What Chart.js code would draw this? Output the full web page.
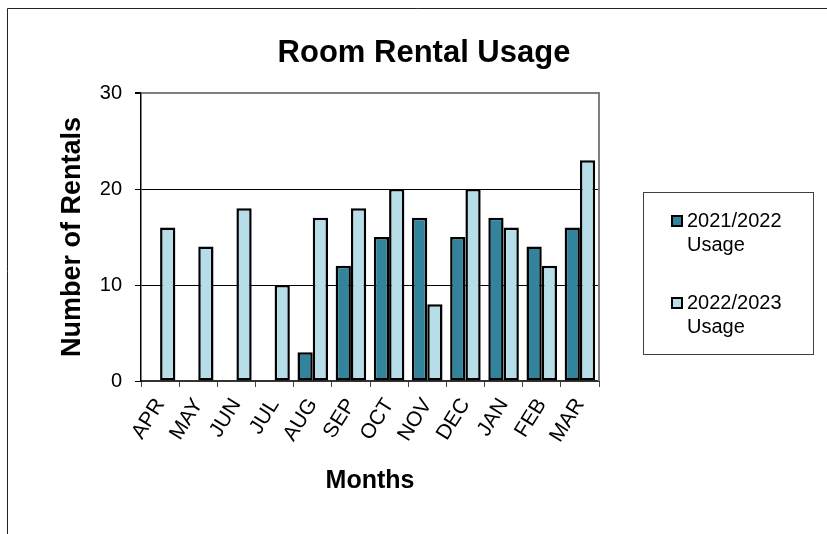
<!DOCTYPE html>
<html>
<head>
<meta charset="utf-8">
<script src="https://cdn.jsdelivr.net/npm/chart.js@4/dist/chart.umd.min.js"></script>
<style>
  html, body { margin:0; padding:0; background:#fff; }
  #wrap { width:827px; height:534px; }
</style>
</head>
<body>
<div id="wrap"><canvas id="chart" width="827" height="534"></canvas></div>
<script>
// data
const months = ['APR','MAY','JUN','JUL','AUG','SEP','OCT','NOV','DEC','JAN','FEB','MAR'];
const usage2122 = [null, null, null, null, 3, 12, 15, 17, 15, 17, 14, 16];
const usage2223 = [16, 14, 18, 10, 17, 18, 20, 8, 20, 16, 12, 23];
const seriesNames = ['2021/2022 Usage', '2022/2023 Usage'];
const yTicks = [0, 10, 20, 30];

const FONT = '"Liberation Sans", Arial, sans-serif';
const DARK = '#31849B', LIGHT = '#B7DDE8';

// outer frame, title, plot border and legend box
const decor = {
  id: 'decor',
  beforeDraw(chart){
    const c = chart.ctx;
    c.save();
    c.strokeStyle = '#222'; c.lineWidth = 1;
    c.beginPath(); c.moveTo(7.5, 534); c.lineTo(7.5, 8.5); c.lineTo(827, 8.5); c.stroke();
    c.restore();
  },
  afterDraw(chart){
    const c = chart.ctx, a = chart.chartArea;
    c.save();
    // right side of plot area (gray)
    c.strokeStyle = '#808080'; c.lineWidth = 2;
    c.beginPath(); c.moveTo(a.right, a.top - 1); c.lineTo(a.right, a.bottom); c.stroke();

    // title
    c.fillStyle = '#000';
    c.font = 'bold 31px ' + FONT;
    c.textAlign = 'center'; c.textBaseline = 'middle';
    c.fillText('Room Rental Usage', 424, 53);

    // legend
    c.strokeStyle = '#404040'; c.lineWidth = 1;
    c.strokeRect(643.5, 192.5, 170, 162);
    c.font = '20px ' + FONT;
    c.textAlign = 'left';
    const rowY = [221, 303];
    chart.data.datasets.forEach((ds, i) => {
      const y = rowY[i];
      c.fillStyle = ds.backgroundColor;
      c.fillRect(672, y - 5, 10, 10);
      c.strokeStyle = '#000'; c.lineWidth = 2;
      c.strokeRect(672, y - 5, 10, 10);
      c.fillStyle = '#000';
      ds.label.split(' ').forEach((line, k) => c.fillText(line, 687, y + k * 24));
    });
    c.restore();
  }
};

new Chart(document.getElementById('chart'), {
  type: 'bar',
  data: {
    labels: months,
    datasets: [
      { label: seriesNames[0], data: usage2122, backgroundColor: DARK, borderColor: '#000', borderWidth: 2.5, borderSkipped: false },
      { label: seriesNames[1], data: usage2223, backgroundColor: LIGHT, borderColor: '#000', borderWidth: 2.5, borderSkipped: false }
    ]
  },
  options: {
    responsive: false,
    animation: false,
    events: [],
    layout: { padding: { left: 8, right: 228, top: 93, bottom: 0 } },
    datasets: { bar: { categoryPercentage: 0.8, barPercentage: 1.0 } },
    plugins: { legend: { display: false }, title: { display: false }, tooltip: { enabled: false } },
    scales: {
      x: {
        afterFit: s => { s.height = 153; },
        grid: { display: true, drawOnChartArea: false, drawTicks: true, tickLength: 6, color: '#444', offset: true },
        border: { display: true, color: '#333', width: 2 },
        ticks: { color: '#000', font: { family: FONT, size: 21 }, minRotation: 58, maxRotation: 58, padding: 7, autoSkip: false },
        title: { display: true, text: 'Months', color: '#000', font: { family: FONT, size: 25, weight: 'bold' }, padding: { top: 0, bottom: 38 } }
      },
      y: {
        min: 0, max: 30,
        afterFit: s => { s.width = 133; },
        afterBuildTicks: s => { s.ticks = yTicks.map(v => ({ value: v })); },
        grid: {
          drawTicks: true, tickLength: 6, tickColor: '#000',
          color: ctx => ctx.tick.value === 30 ? '#808080' : (ctx.tick.value === 0 ? 'rgba(0,0,0,0)' : '#000'),
          lineWidth: ctx => ctx.tick.value === 30 ? 2 : 1
        },
        border: { display: true, color: '#000', width: 1.5 },
        ticks: { color: '#000', font: { family: FONT, size: 20 }, padding: 13 },
        title: { display: true, text: 'Number of Rentals', color: '#000', font: { family: FONT, size: 27, weight: 'bold' }, padding: { top: 48, bottom: 0 } }
      }
    }
  },
  plugins: [decor]
});
</script>
</body>
</html>
